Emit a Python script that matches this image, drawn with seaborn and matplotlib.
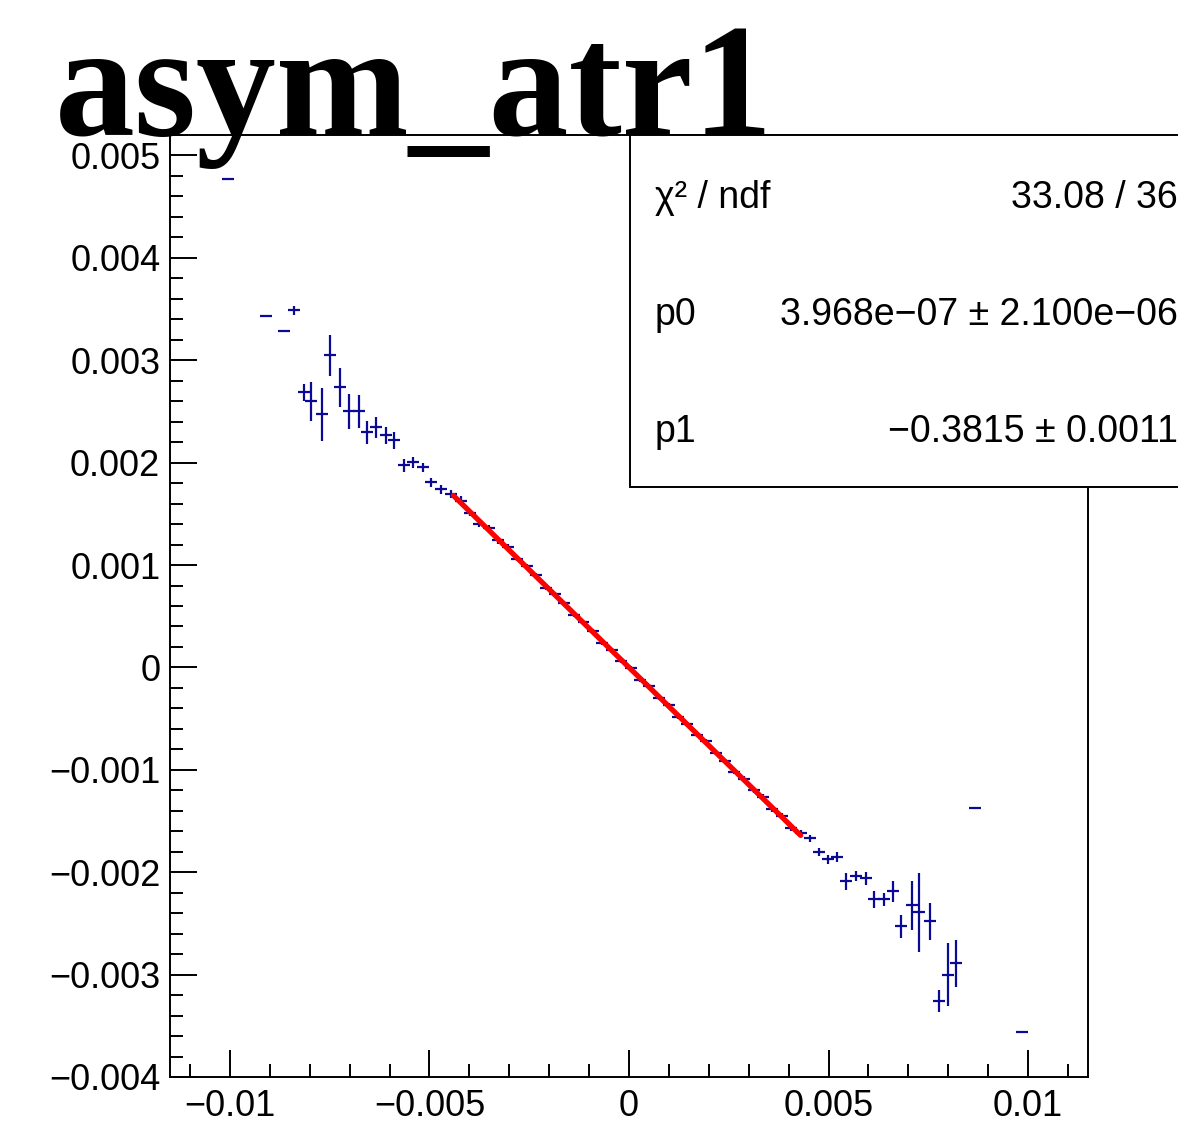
import numpy as np
import matplotlib
matplotlib.use("Agg")
import matplotlib.pyplot as plt
from matplotlib.patches import Rectangle
from matplotlib.ticker import MultipleLocator, FuncFormatter
import seaborn as sns

# asym_atr1 profile points
left_x = [-0.01005, -0.0091, -0.00865, -0.0084, -0.00815, -0.00797, -0.0077, -0.0075,
          -0.00724, -0.00702, -0.00677, -0.00657, -0.00634, -0.0061, -0.00589, -0.00564,
          -0.00541, -0.00516, -0.00496, -0.00471]
left_y = [0.004766, 0.003428, 0.003281, 0.003486, 0.002686, 0.002598, 0.002471, 0.003047,
          0.002734, 0.0025, 0.0025, 0.002295, 0.002344, 0.002266, 0.002217, 0.001973,
          0.002002, 0.001953, 0.001807, 0.001738]
left_err = [0.000005, 0.000005, 0.000005, 0.00004, 0.00008, 0.00019, 0.00026, 0.0002,
            0.00019, 0.00017, 0.00016, 0.00011, 0.0001, 0.00008, 0.00008, 0.00006,
            0.00005, 0.00004, 0.00004, 0.00004]

core_x = [-0.00446, -0.00422, -0.00398, -0.00375, -0.00351, -0.00327, -0.00304, -0.00280,
          -0.00256, -0.00233, -0.00209, -0.00185, -0.00162, -0.00138, -0.00114, -0.00091,
          -0.00067, -0.00043, -0.00020, 0.00004, 0.00028, 0.00051, 0.00075, 0.00099,
          0.00122, 0.00146, 0.00170, 0.00193, 0.00217, 0.00241, 0.00264, 0.00288,
          0.00312, 0.00335, 0.00359, 0.00383, 0.00406, 0.00430]
core_y = [0.00169, 0.00163, 0.00151, 0.00140, 0.00136, 0.00124, 0.00118, 0.00106,
          0.00099, 0.00090, 0.00078, 0.00072, 0.00063, 0.00051, 0.00044, 0.00036,
          0.00024, 0.00017, 0.00006, -0.00001, -0.00012, -0.00018, -0.00030, -0.00037,
          -0.00048, -0.00055, -0.00066, -0.00072, -0.00084, -0.00091, -0.00102, -0.00109,
          -0.00120, -0.00127, -0.00138, -0.00145, -0.00157, -0.00162]
core_err = [0.00004, 0.00004, 0.00003, 0.00003, 0.00003, 0.00003, 0.00003, 0.00002,
            0.00002, 0.00002, 0.00002, 0.00002, 0.00002, 0.00002, 0.00002, 0.00002,
            0.00002, 0.00002, 0.00002, 0.00002, 0.00002, 0.00002, 0.00002, 0.00002,
            0.00002, 0.00002, 0.00002, 0.00002, 0.00002, 0.00002, 0.00002, 0.00003,
            0.00003, 0.00003, 0.00003, 0.00003, 0.00003, 0.00003]

right_x = [0.00454, 0.00476, 0.00498, 0.00521, 0.00544, 0.00569, 0.00594, 0.00614,
           0.00639, 0.00662, 0.00682, 0.00709, 0.00727, 0.00754, 0.00777, 0.0080,
           0.0082, 0.00867, 0.00985]
right_y = [-0.00167, -0.0018, -0.001875, -0.001855, -0.00209, -0.00204, -0.00206, -0.002266,
           -0.002266, -0.002187, -0.002529, -0.002324, -0.002393, -0.00248, -0.00326, -0.0030,
           -0.00289, -0.001377, -0.003564]
right_err = [0.00003, 0.00004, 0.00004, 0.00005, 0.00008, 0.00005, 0.00006, 0.00008,
             0.00006, 0.0001, 0.00011, 0.00024, 0.00039, 0.00018, 0.00011, 0.00031,
             0.00023, 0.000005, 0.000005]

# fit result pol1
p0 = 3.968e-07
p1 = -0.3815
fit_range = (-0.0044, 0.0043)
stat_labels = ["χ² / ndf", "p0", "p1"]
stat_values = ["33.08 / 36", "3.968e−07 ± 2.100e−06", "−0.3815 ± 0.0011"]

x = np.array(left_x + core_x + right_x)
y = np.array(left_y + core_y + right_y)
yerr = np.array(left_err + core_err + right_err)

sns.set_style("white")
plt.rcParams["font.family"] = ["Liberation Sans", "DejaVu Sans"]
plt.rcParams["text.color"] = "black"
plt.rcParams["xtick.color"] = "black"
plt.rcParams["ytick.color"] = "black"

W, H = 1178, 1144
fig = plt.figure(figsize=(W / 100, H / 100), dpi=100)
ax = fig.add_axes([170 / W, 1 - 1077 / H, (1088 - 170) / W, (1077 - 135) / H])

ax.errorbar(x, y, yerr=yerr, xerr=0.00015, fmt="none", ecolor="#0a0a96",
            elinewidth=1.6, capsize=0, zorder=2)

fx = np.linspace(fit_range[0], fit_range[1], 200)
sns.lineplot(x=fx, y=p0 + p1 * fx, color="red", linewidth=3.8, ax=ax, zorder=3)

ax.set_xlim(-0.0115, 0.0115)
ax.set_ylim(-0.004, 0.0052)


def root_fmt(v, pos):
    if abs(v) < 1e-12:
        return "0"
    s = f"{v:.3f}".rstrip("0").rstrip(".")
    return s.replace("-", "−")


ax.xaxis.set_major_locator(MultipleLocator(0.005))
ax.xaxis.set_minor_locator(MultipleLocator(0.001))
ax.yaxis.set_major_locator(MultipleLocator(0.001))
ax.yaxis.set_minor_locator(MultipleLocator(0.0002))
ax.xaxis.set_major_formatter(FuncFormatter(root_fmt))
ax.yaxis.set_major_formatter(FuncFormatter(root_fmt))

ax.tick_params(which="both", direction="in", bottom=True, left=True, top=False,
               right=False, width=1.4, colors="black", labelsize=26)
ax.tick_params(which="major", length=19.5)
ax.tick_params(which="minor", length=9.7)
ax.tick_params(axis="y", pad=7)
ax.tick_params(axis="x", pad=9)
for sp in ax.spines.values():
    sp.set_linewidth(1.4)
    sp.set_color("black")
ax.set_xlabel("")
ax.set_ylabel("")

# stats box
box = Rectangle((630 / W, 1 - 487 / H), 0.6, (487 - 135) / H, transform=fig.transFigure,
                facecolor="white", edgecolor="black", linewidth=1.4, zorder=5)
fig.add_artist(box)
for i, (lab, val) in enumerate(zip(stat_labels, stat_values)):
    yb = 1 - (208 + i * 117) / H
    fig.text(655 / W, yb, lab, ha="left", va="baseline", fontsize=27, zorder=6)
    fig.text(1178 / W, yb, val, ha="right", va="baseline", fontsize=27, zorder=6)

fig.text(55 / W, 1 - 135 / H, "asym_atr1", ha="left", va="baseline", fontsize=115,
         fontweight="bold", color="black",
         family=["Liberation Serif", "DejaVu Serif"], zorder=7)

fig.savefig("out.png", dpi=100)
